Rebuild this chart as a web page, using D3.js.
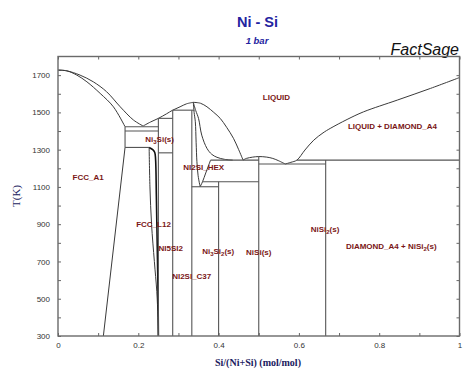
<!DOCTYPE html>
<html>
<head>
<meta charset="utf-8">
<script src="https://cdn.jsdelivr.net/npm/d3@7"></script>
<style>
  body { margin: 0; background: #fff; }
  svg { display: block; }
</style>
</head>
<body>
<div id="viz-container"></div>
<script>
// phase boundaries, [x Si, T K]
var liqNi    = [[0,1727],[0.022,1723],[0.055,1700],[0.088,1664],[0.121,1611],[0.155,1530],[0.188,1459],[0.212,1427]];
var solNi    = [[0,1727],[0.022,1723],[0.047,1700],[0.072,1664],[0.105,1602],[0.138,1530],[0.167,1423]];
var liqMid   = [[0.212,1427],[0.23,1448],[0.25,1468],[0.27,1492],[0.2857,1512],[0.304,1530],[0.32,1546],[0.337,1554]];
var liqHex   = [[0.337,1554],[0.355,1549],[0.371,1530],[0.388,1500],[0.404,1468],[0.42,1420],[0.437,1361],[0.45,1300],[0.461,1244]];
var liqNiSi  = [[0.461,1244],[0.469,1253],[0.485,1260],[0.5,1263],[0.52,1260],[0.535,1253],[0.55,1240],[0.566,1223]];
var liqSi    = [[0.566,1223],[0.58,1232],[0.595,1244],[0.615,1298],[0.637,1351],[0.66,1390],[0.678,1414],[0.72,1462],[0.761,1503],[0.845,1566],[0.928,1629],[1,1687]];
var hexSol   = [[0.337,1554],[0.343,1510],[0.35,1468],[0.358,1378],[0.371,1307],[0.383,1275],[0.396,1259],[0.415,1248],[0.435,1244]];
var hexLeft  = [[0.337,1554],[0.339,1500],[0.342,1450],[0.344,1340],[0.346,1235],[0.349,1160],[0.354,1101]];
var hexRight = [[0.354,1101],[0.36,1128],[0.368,1175],[0.375,1215],[0.38,1244]];
var fccSolvus = [[0.167,1312],[0.113,300]];
var l12Left  = [[0.227,1312],[0.229,1100],[0.233,900],[0.24,700],[0.246,540],[0.249,400],[0.25,300]];
var l12Right = [[0.227,1312],[0.236,1300],[0.241,1285],[0.243,1250],[0.245,1050],[0.247,800],[0.249,550],[0.25,300]];

// isotherms [x1, x2, T]
var isotherms = [[0.167,0.25,1423],[0.167,0.25,1400],[0.167,0.227,1312],[0.25,0.2857,1468],[0.25,0.2857,1283],
                 [0.2857,0.34,1512],[0.333,0.4,1101],[0.36,0.5,1128],[0.38,0.5,1244],[0.5,0.667,1223],[0.595,1,1244]];
// compounds [x, Tlow, Thigh]
var compounds = [[0.167,1312,1423],[0.25,300,1468],[0.2857,300,1512],[0.3333,300,1512],[0.4,300,1128],[0.5,300,1263],[0.6667,300,1244]];

var xTicks = [0,0.1,0.2,0.3,0.4,0.5,0.6,0.7,0.8,0.9,1];
var xLabels = [0,0.2,0.4,0.6,0.8,1];
var yTicks = [300,400,500,600,700,800,900,1000,1100,1200,1300,1400,1500,1600,1700];
var yLabels = [300,500,700,900,1100,1300,1500,1700];

// phase labels [text parts, x, T]; parts: [string, sub?]
var phaseLabels = [
	[[['LIQUID']], 0.544, 1581],
	[[['LIQUID + DIAMOND_A4']], 0.833, 1428],
	[[['FCC_A1']], 0.075, 1153],
	[[['Ni'],['3',1],['Si(s)']], 0.253, 1357],
	[[['NI2SI_HEX']], 0.363, 1205],
	[[['FCC_L12']], 0.238, 901],
	[[['NI5SI2']], 0.281, 770],
	[[['Ni'],['3',1],['Si'],['2',1],['(s)']], 0.399, 756],
	[[['NI2SI_C37']], 0.333, 622],
	[[['NiSi(s)']], 0.5, 749],
	[[['NiSi'],['2',1],['(s)']], 0.665, 872],
	[[['DIAMOND_A4 + NiSi'],['2',1],['(s)']], 0.83, 784]
];

var width = 474, height = 373;
var svg = d3.select('#viz-container').append('svg')
	.attr('width', width).attr('height', height);

var x = d3.scaleLinear().domain([0, 1]).range([58, 459.5]);
var y = d3.scaleLinear().domain([300, 1800]).range([336, 56.5]);

// titles
svg.append('text').attr('x', 257.5).attr('y', 27).attr('text-anchor', 'middle')
	.style('font', 'bold 14.5px "Liberation Sans", Arial, sans-serif').attr('fill', '#2323a0').text('Ni - Si');
svg.append('text').attr('x', 257).attr('y', 44).attr('text-anchor', 'middle')
	.style('font', 'italic bold 9.5px "Liberation Sans", Arial, sans-serif').attr('fill', '#2323a0').text('1 bar');
svg.append('text').attr('x', 459).attr('y', 55).attr('text-anchor', 'end')
	.style('font', 'italic 16px "Liberation Sans", Arial, sans-serif').attr('fill', '#111').text('FactSage');

// axes
var tickFont = '8px "Liberation Sans", Arial, sans-serif';
var axB = svg.append('g').attr('transform', 'translate(0,336)')
	.call(d3.axisBottom(x).tickValues(xTicks).tickSize(-3).tickPadding(6)
		.tickFormat(function(d){ return xLabels.indexOf(d) >= 0 ? d3.format('~g')(d) : ''; }));
var axT = svg.append('g').attr('transform', 'translate(0,56.5)')
	.call(d3.axisTop(x).tickValues(xTicks).tickSize(-3).tickFormat(''));
var axL = svg.append('g').attr('transform', 'translate(58,0)')
	.call(d3.axisLeft(y).tickValues(yTicks).tickSize(-3).tickPadding(8)
		.tickFormat(function(d){ return yLabels.indexOf(d) >= 0 ? d : ''; }));
var axR = svg.append('g').attr('transform', 'translate(459.5,0)')
	.call(d3.axisRight(y).tickValues(yTicks).tickSize(-3).tickFormat(''));
[axB, axT, axL, axR].forEach(function(a){
	a.select('.domain').remove();
	a.selectAll('line').attr('stroke', '#666');
	a.selectAll('text').style('font', tickFont).attr('fill', '#333');
});

// phase lines
var line = d3.line()
	.x(function(d){ return x(d[0]); })
	.y(function(d){ return y(d[1]); })
	.curve(d3.curveCatmullRom);
var bounds = svg.append('g').attr('fill', 'none').attr('stroke', '#3a3a3a').attr('stroke-width', 1);
[liqNi, solNi, liqMid, liqHex, liqNiSi, liqSi, hexSol, hexLeft, hexRight, fccSolvus, l12Left].forEach(function(c){
	bounds.append('path').attr('d', line(c));
});
bounds.append('path').attr('d', line(l12Right)).attr('stroke', '#111').attr('stroke-width', 1.6);

var lines = svg.append('g').attr('stroke', '#555').attr('stroke-width', 1.1);
lines.selectAll('.iso').data(isotherms).enter().append('line')
	.attr('x1', function(d){ return x(d[0]); })
	.attr('x2', function(d){ return x(d[1]); })
	.attr('y1', function(d){ return y(d[2]); })
	.attr('y2', function(d){ return y(d[2]); });
lines.selectAll('.cmp').data(compounds).enter().append('line')
	.attr('x1', function(d){ return x(d[0]); })
	.attr('x2', function(d){ return x(d[0]); })
	.attr('y1', function(d){ return y(d[1]); })
	.attr('y2', function(d){ return y(d[2]); });

// frame
svg.append('rect').attr('x', 58).attr('y', 56.5).attr('width', 401.5).attr('height', 279.5)
	.attr('fill', 'none').attr('stroke', '#6a6a6a').attr('stroke-width', 1.4);

// phase labels
var lbl = svg.append('g').style('font', 'bold 8px "Liberation Sans", Arial, sans-serif').attr('fill', '#7a1616');
phaseLabels.forEach(function(p){
	var t = lbl.append('text').attr('x', x(p[1])).attr('y', y(p[2])).attr('dy', '0.35em').attr('text-anchor', 'middle');
	p[0].forEach(function(part){
		var s = t.append('tspan').text(part[0]);
		if (part[1]) s.attr('dy', '2').style('font-size', '6px');
		else if (t.selectAll('tspan').size() > 1) s.attr('dy', '-2');
	});
});

// axis titles
svg.append('text').attr('transform', 'translate(20,196) rotate(-90)').attr('text-anchor', 'middle')
	.style('font', '11px "Liberation Serif", "Times New Roman", serif').attr('fill', '#1a1a5e').text('T(K)');
svg.append('text').attr('x', 258).attr('y', 366).attr('text-anchor', 'middle')
	.style('font', 'bold 10px "Liberation Serif", "Times New Roman", serif').attr('fill', '#1a1a5e').text('Si/(Ni+Si) (mol/mol)');
</script>
</body>
</html>
